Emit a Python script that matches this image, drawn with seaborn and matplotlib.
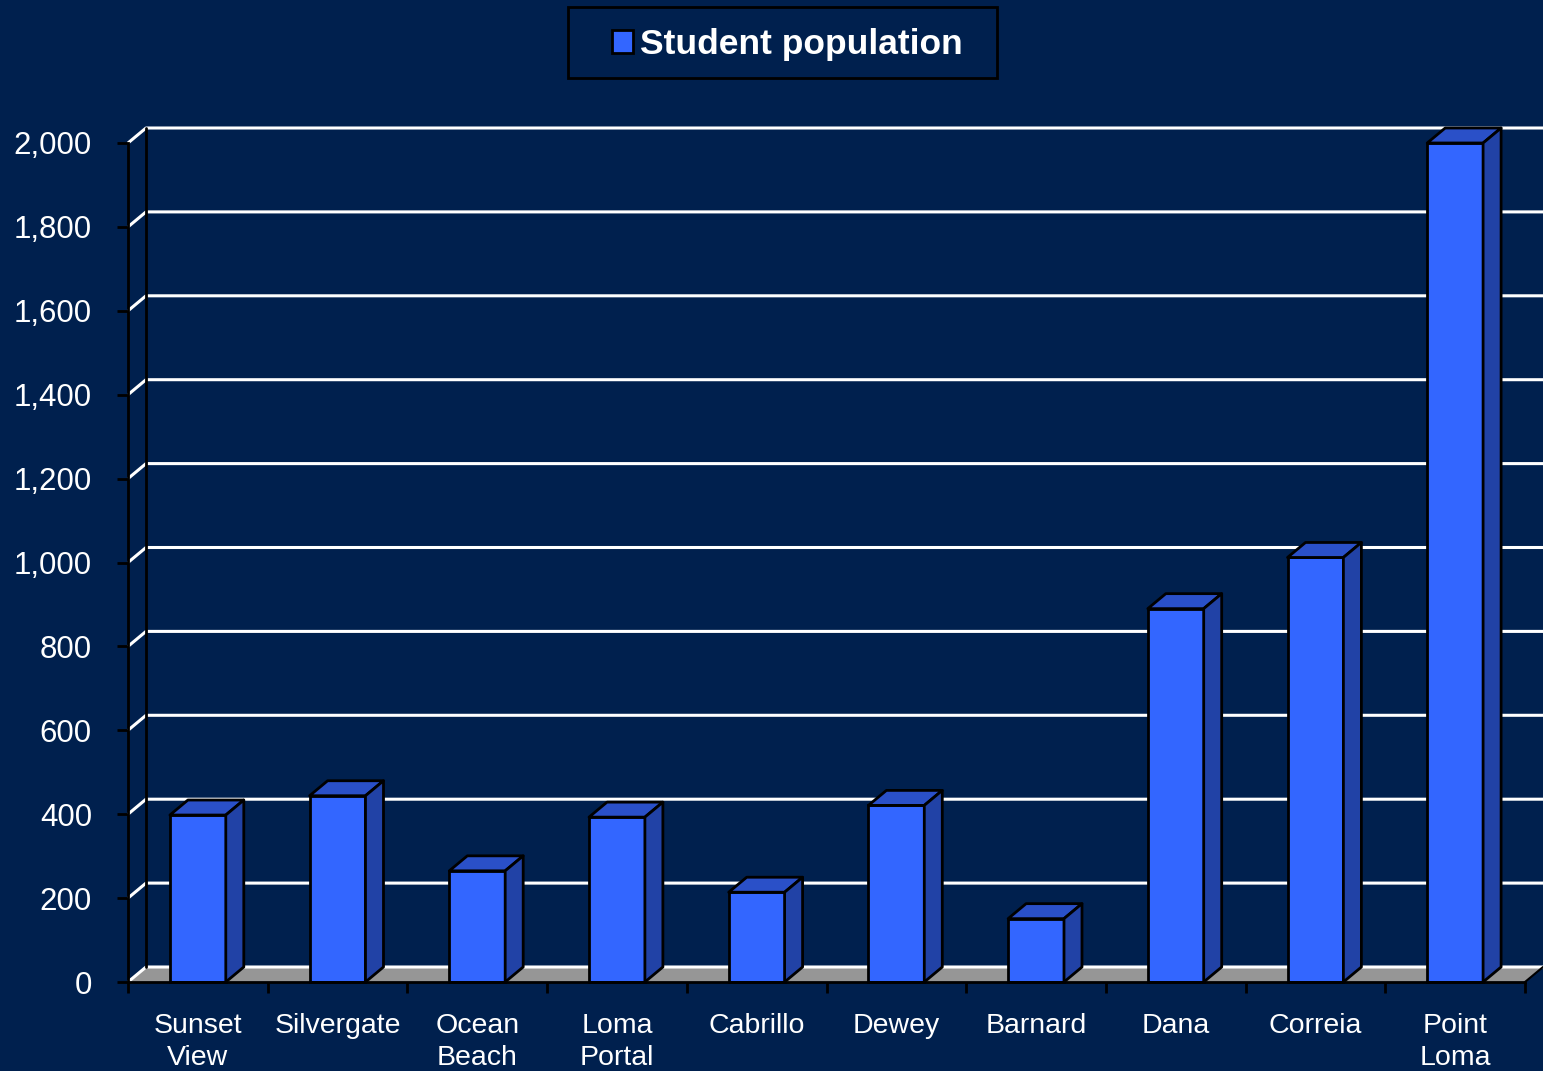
import numpy as np
import pandas as pd
import matplotlib
matplotlib.use("Agg")
import matplotlib.pyplot as plt
from matplotlib.patches import Polygon, Patch, Rectangle
import seaborn as sns

# Data
schools = ["Sunset\nView", "Silvergate", "Ocean\nBeach", "Loma\nPortal", "Cabrillo",
           "Dewey", "Barnard", "Dana", "Correia", "Point\nLoma"]
students = [398, 444, 265, 393, 214, 421, 151, 890, 1012, 2000]
y_ticks = [0, 200, 400, 600, 800, 1000, 1200, 1400, 1600, 1800, 2000]
series_name = "Student population"

# Colours
bg = "#00204E"
front = "#3366FF"
top_c = "#2A50C8"
side_c = "#2142A6"
floor_c = "#969696"

sns.set_theme(style="white")
plt.rcParams["font.family"] = ["Liberation Sans", "DejaVu Sans"]

W, H = 1543, 1071
fig = plt.figure(figsize=(W / 100, H / 100), dpi=100, facecolor=bg)
ax = fig.add_axes([128 / W, (H - 982) / H, 1397 / W, 839 / H])
ax.set_facecolor(bg)

df = pd.DataFrame({"school": schools, "students": students})
sns.barplot(data=df, x="school", y="students", color=front, width=0.4,
            edgecolor="black", linewidth=2, saturation=1, ax=ax, zorder=3)

n = len(schools)
ax.set_xlim(-0.5, n - 0.5)
ax.set_ylim(0, 2000)

# 3D depth offset in data units (about 18 px right, 15 px up)
dx = 18 / (1397 / n)
dy = 15 / (839 / 2000)

# floor
floor = Polygon([(-0.5, 0), (n - 0.5, 0), (n - 0.5 + dx, dy), (-0.5 + dx, dy)],
                closed=True, facecolor=floor_c, edgecolor="none", zorder=1, clip_on=False)
ax.add_patch(floor)
ax.plot([n - 0.5, n - 0.5 + dx], [0, dy], color="black", lw=1.5, zorder=1.5, clip_on=False)

# gridlines on the side wall and back wall
for v in y_ticks:
    ax.plot([-0.5, -0.5 + dx, n - 0.5 + dx], [v, v + dy, v + dy],
            color="white", lw=2.2, zorder=1.2, clip_on=False, solid_capstyle="butt")
# back-left corner edge
ax.plot([-0.5 + dx, -0.5 + dx], [dy, 2000 + dy], color="black", lw=2, zorder=1.3, clip_on=False)

# top and side faces of each bar
for p in ax.patches:
    if p is floor:
        continue
    x0 = p.get_x()
    w = p.get_width()
    h = p.get_height()
    x1 = x0 + w
    top = Polygon([(x0, h), (x1, h), (x1 + dx, h + dy), (x0 + dx, h + dy)], closed=True,
                  facecolor=top_c, edgecolor="black", lw=2, zorder=3, clip_on=False,
                  joinstyle="round")
    side = Polygon([(x1, 0), (x1 + dx, dy), (x1 + dx, h + dy), (x1, h)], closed=True,
                   facecolor=side_c, edgecolor="black", lw=2, zorder=3, clip_on=False,
                   joinstyle="round")
    ax.add_patch(top)
    ax.add_patch(side)
    p.set_clip_on(False)

# axes styling
for s in ["top", "right"]:
    ax.spines[s].set_visible(False)
for s in ["left", "bottom"]:
    ax.spines[s].set_color("black")
    ax.spines[s].set_linewidth(2)
    ax.spines[s].set_zorder(4)

ax.set_yticks(y_ticks, labels=[f"{v:,}" for v in y_ticks])
ax.tick_params(axis="y", direction="out", length=8, width=2, color="black",
               labelcolor="white", labelsize=22.5, pad=18, left=True)

ax.set_xticks(np.arange(-0.5, n, 1), labels=[""] * (n + 1))
ax.tick_params(axis="x", which="major", direction="out", length=8, width=2,
               color="black", bottom=True)
ax.set_xticks(np.arange(n), labels=schools, minor=True)
ax.tick_params(axis="x", which="minor", length=0, labelcolor="white",
               labelsize=20.5, pad=22)
for t in ax.get_xticklabels(minor=True):
    t.set_linespacing(1.3)
ax.set_xlabel("")
ax.set_ylabel("")
ax.grid(False)

# legend box drawn separately so it can be wider than the entry
fig.patches.append(Rectangle((568 / W, 1 - 78 / H), 429 / W, 71 / H, transform=fig.transFigure,
                             facecolor=bg, edgecolor="black", lw=2, zorder=0))
handle = Patch(facecolor=front, edgecolor="black", linewidth=2, label=series_name)
leg = fig.legend(handles=[handle], loc="center", bbox_to_anchor=(787.5 / W, 1 - 44.5 / H),
                 frameon=False, handlelength=0.6, handleheight=0.6, handletextpad=0.2,
                 borderpad=0, borderaxespad=0,
                 prop={"family": "Liberation Sans", "weight": "bold", "size": 25.5})
for t in leg.get_texts():
    t.set_color("white")

fig.savefig("out.png", dpi=100, facecolor=bg)
